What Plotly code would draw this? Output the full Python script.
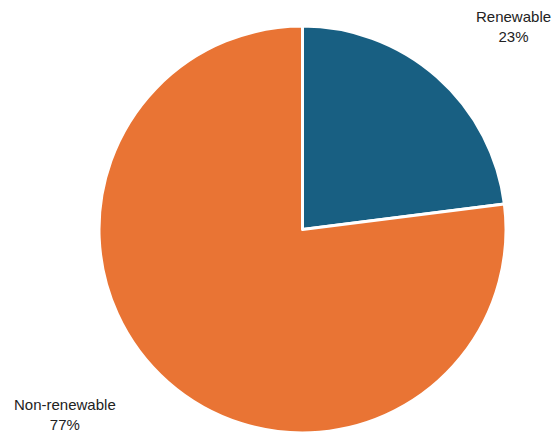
import plotly.graph_objects as go

labels = ["Renewable", "Non-renewable"]
values = [23, 77]
colors = ["#185f82", "#e97434"]
label_x = [513, 65]
label_y = [26, 414]

W, H = 555, 433
ML, MR, MT, MB = 50, 0, 26, 0
PW, PH = W - ML - MR, H - MT - MB

fig = go.Figure(go.Pie(
    labels=labels, values=values, sort=False, direction="clockwise", rotation=0,
    marker=dict(colors=colors, line=dict(color="white", width=3)),
    textinfo="none", hoverinfo="label+percent", showlegend=False,
    domain=dict(x=[0, 1], y=[0, 1]),
))

anns = []
total = sum(values)
for lab, v, x, y in zip(labels, values, label_x, label_y):
    anns.append(dict(
        text=f"{lab}<br>{round(100 * v / total)}%",
        x=(x - ML) / PW, y=1 - (y - MT) / PH,
        xref="paper", yref="paper", showarrow=False, xanchor="center", yanchor="middle",
        font=dict(family="Liberation Sans, Arial, sans-serif", size=15, color="#222222"),
        align="center",
    ))

fig.update_layout(
    width=W, height=H, margin=dict(l=ML, r=MR, t=MT, b=MB),
    paper_bgcolor="white", plot_bgcolor="white", annotations=anns,
)
fig.write_html("out.html")
